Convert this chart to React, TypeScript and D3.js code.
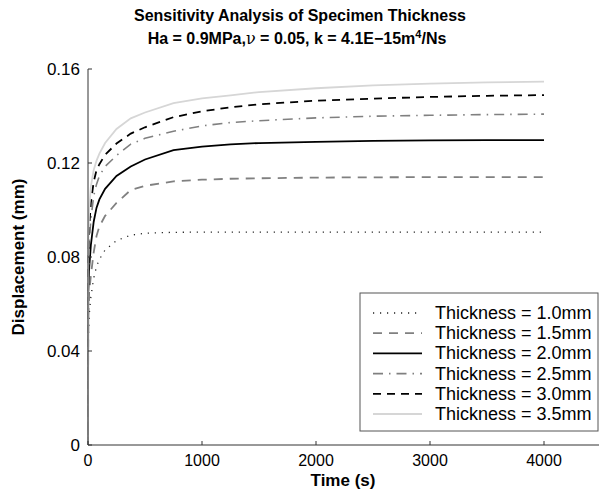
import React from "react";
import * as d3 from "d3";

const times = [0, 2, 10, 25, 50, 75, 100, 150, 250, 375, 500, 750, 1000, 1250, 1500, 2000, 2500, 3000, 3500, 4000];
const t10 = [0, 0.045, 0.055, 0.063, 0.071, 0.076, 0.079, 0.083, 0.087, 0.0893, 0.0901, 0.0905, 0.0906, 0.0906, 0.0906, 0.0906, 0.0906, 0.0906, 0.0906, 0.0906];
const t15 = [0, 0.055, 0.065, 0.072, 0.082, 0.089, 0.093, 0.0975, 0.103, 0.1085, 0.1103, 0.1122, 0.1129, 0.1133, 0.1135, 0.1138, 0.1139, 0.114, 0.114, 0.114];
const t20 = [0, 0.065, 0.075, 0.085, 0.095, 0.101, 0.1045, 0.109, 0.1145, 0.1185, 0.1215, 0.1255, 0.127, 0.1279, 0.1285, 0.129, 0.1294, 0.1296, 0.1297, 0.1297];
const t25 = [0, 0.072, 0.085, 0.096, 0.106, 0.111, 0.1145, 0.1185, 0.1232, 0.128, 0.1305, 0.1335, 0.1358, 0.1372, 0.138, 0.1392, 0.1399, 0.1403, 0.1406, 0.1408];
const t30 = [0, 0.078, 0.092, 0.103, 0.112, 0.117, 0.1195, 0.1235, 0.1283, 0.1325, 0.1352, 0.1395, 0.142, 0.1437, 0.145, 0.1465, 0.1474, 0.1481, 0.1486, 0.1489];
const t35 = [0, 0.085, 0.1, 0.11, 0.117, 0.121, 0.124, 0.1285, 0.1345, 0.139, 0.1415, 0.1455, 0.1475, 0.1488, 0.1502, 0.1518, 0.153, 0.1538, 0.1543, 0.1546];

const seriesNames = [
  "Thickness = 1.0mm",
  "Thickness = 1.5mm",
  "Thickness = 2.0mm",
  "Thickness = 2.5mm",
  "Thickness = 3.0mm",
  "Thickness = 3.5mm",
];
const seriesValues = [t10, t15, t20, t25, t30, t35];
const xTicks = [0, 1000, 2000, 3000, 4000];
const yTicks = [0, 0.04, 0.08, 0.12, 0.16];

const styles = [
  { stroke: "#222", width: 1.3, dash: "1.2 5.8" },
  { stroke: "#808080", width: 1.8, dash: "9 7" },
  { stroke: "#000", width: 1.8, dash: "" },
  { stroke: "#808080", width: 1.6, dash: "10 6 1.5 6" },
  { stroke: "#000", width: 1.8, dash: "8 6" },
  { stroke: "#d6d6d6", width: 1.8, dash: "" },
];

const FONT = "'Liberation Sans', Arial, Helvetica, sans-serif";

export default function App() {
  const W = 599;
  const H = 492;
  const x = d3.scaleLinear().domain([0, 4500]).range([88, 601]);
  const y = d3.scaleLinear().domain([0, 0.16]).range([445, 69]);
  const line = d3
    .line<[number, number]>()
    .x((d) => x(d[0]))
    .y((d) => y(d[1]));

  const legX = 360;
  const legY = 293;
  const legW = 238;
  const legH = 138;

  return (
    <svg
      width={W}
      height={H}
      style={{ position: "absolute", left: 0, top: 0, background: "#fff" }}
      fontFamily={FONT}
    >
      <rect x={0} y={0} width={W} height={H} fill="#fff" />
      {/* Title */}
      <text x={300} y={21} textAnchor="middle" fontWeight="bold" fontSize={16} fill="#000">
        Sensitivity Analysis of Specimen Thickness
      </text>
      <text x={297} y={44} textAnchor="middle" fontWeight="bold" fontSize={16} fill="#000">
        Ha = 0.9MPa,
        <tspan fontWeight="normal" fontFamily="'DejaVu Serif', serif">ν</tspan>
        {" = 0.05, k = 4.1E\u221215m"}
        <tspan fontSize={11} dy={-6}>4</tspan>
        <tspan dy={6}>/Ns</tspan>
      </text>

      {/* Series */}
      {seriesValues.map((vals, i) => (
        <path
          key={i}
          d={line(times.map((t, j) => [t, vals[j]]) as [number, number][]) || ""}
          fill="none"
          stroke={styles[i].stroke}
          strokeWidth={styles[i].width}
          strokeDasharray={styles[i].dash || undefined}
        />
      ))}

      {/* Axes */}
      <line x1={x(0)} x2={x(4500)} y1={y(0)} y2={y(0)} stroke="#333" strokeWidth={1} />
      <line x1={x(0)} x2={x(0)} y1={y(0)} y2={y(0.16)} stroke="#333" strokeWidth={1} />
      {xTicks.map((t) => (
        <g key={"x" + t}>
          <line x1={x(t)} x2={x(t)} y1={y(0)} y2={y(0) - 4} stroke="#333" />
          <text x={x(t)} y={y(0) + 21} textAnchor="middle" fontSize={16} fill="#000">
            {t}
          </text>
        </g>
      ))}
      {yTicks.map((t) => (
        <g key={"y" + t}>
          <line x1={x(0)} x2={x(0) + 4} y1={y(t)} y2={y(t)} stroke="#333" />
          <text x={80} y={y(t) + 6} textAnchor="end" fontSize={17} fill="#000">
            {t === 0 ? "0" : t.toFixed(2)}
          </text>
        </g>
      ))}
      <text x={343} y={486} textAnchor="middle" fontWeight="bold" fontSize={17} fill="#000">
        Time (s)
      </text>
      <text
        transform={`translate(24,257) rotate(-90)`}
        textAnchor="middle"
        fontWeight="bold"
        fontSize={17}
        fill="#000"
      >
        Displacement (mm)
      </text>

      {/* Legend */}
      <rect x={legX} y={legY} width={legW} height={legH} fill="#fff" stroke="#555" strokeWidth={1} />
      {seriesNames.map((name, i) => {
        const ry = 313 + i * 20.2;
        return (
          <g key={name}>
            <line
              x1={373}
              x2={422}
              y1={ry}
              y2={ry}
              stroke={styles[i].stroke}
              strokeWidth={styles[i].width}
              strokeDasharray={styles[i].dash || undefined}
            />
            <text x={435} y={ry + 6} fontSize={18} fill="#000">
              {name}
            </text>
          </g>
        );
      })}
    </svg>
  );
}
